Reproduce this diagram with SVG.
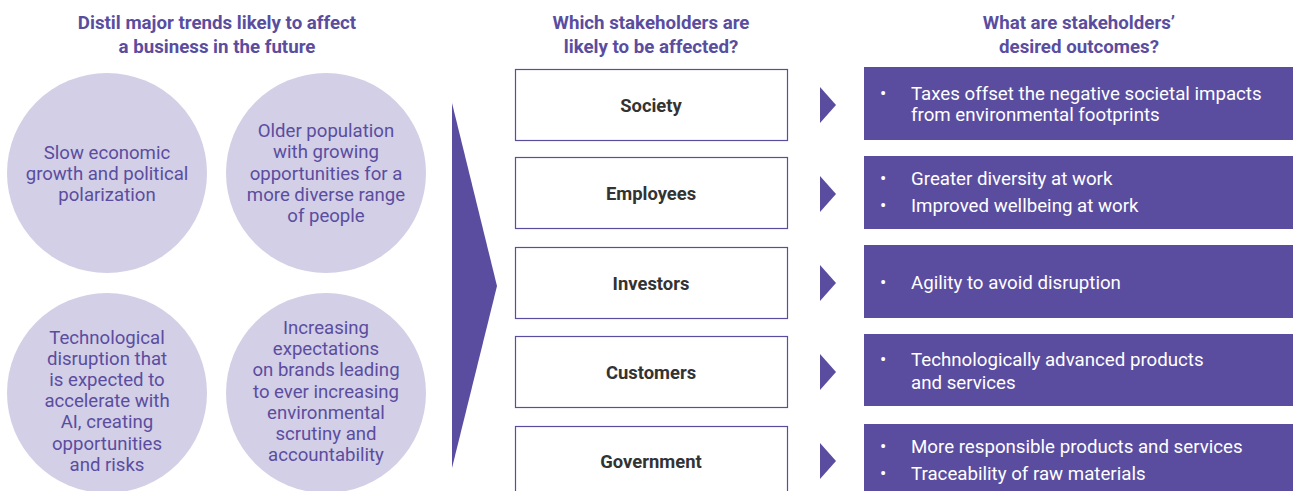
<svg xmlns="http://www.w3.org/2000/svg" width="1293" height="491" viewBox="0 0 1293 491">
<style>
.title{font-family:Roboto,"Liberation Sans",sans-serif;font-weight:700;font-size:18.7px;fill:#5a4da0;text-anchor:middle}
.circ{fill:#d3cfe6}
.ct{font-family:Roboto,"Liberation Sans",sans-serif;font-size:18.6px;fill:#5a4da0;text-anchor:middle}
.box{fill:#fff;stroke:#5a4da0;stroke-width:1.2}
.bl{font-family:Roboto,"Liberation Sans",sans-serif;font-weight:700;font-size:18.4px;fill:#333;text-anchor:middle}
.ob{fill:#5a4da0}
.ot{font-family:Roboto,"Liberation Sans",sans-serif;font-size:18.7px;fill:#fff}
.arr{fill:#5a4da0}
</style>
<g id="titles">
<text class="title" x="217" y="29">Distil major trends likely to affect</text>
<text class="title" x="217" y="53">a business in the future</text>
<text class="title" x="651" y="29">Which stakeholders are</text>
<text class="title" x="651" y="53">likely to be affected?</text>
<text class="title" x="1079" y="29">What are stakeholders’</text>
<text class="title" x="1079" y="53">desired outcomes?</text>
</g>
<g id="trend1"><circle class="circ" cx="107" cy="173" r="100"/>
<text class="ct" x="107" y="159">Slow economic</text><text class="ct" x="107" y="180">growth and political</text><text class="ct" x="107" y="201">polarization</text></g>
<g id="trend2"><circle class="circ" cx="326" cy="173" r="100"/>
<text class="ct" x="326" y="137">Older population</text><text class="ct" x="326" y="158">with growing</text><text class="ct" x="326" y="180">opportunities for a</text><text class="ct" x="326" y="201">more diverse range</text><text class="ct" x="326" y="222">of people</text></g>
<g id="trend3"><circle class="circ" cx="107" cy="393" r="100"/>
<text class="ct" x="107" y="344">Technological</text><text class="ct" x="107" y="365">disruption that</text><text class="ct" x="107" y="386">is expected to</text><text class="ct" x="107" y="407">accelerate with</text><text class="ct" x="107" y="428">AI, creating</text><text class="ct" x="107" y="450">opportunities</text><text class="ct" x="107" y="471">and risks</text></g>
<g id="trend4"><circle class="circ" cx="326" cy="393" r="100"/>
<text class="ct" x="326" y="334">Increasing</text><text class="ct" x="326" y="355">expectations</text><text class="ct" x="326" y="376">on brands leading</text><text class="ct" x="326" y="398">to ever increasing</text><text class="ct" x="326" y="419">environmental</text><text class="ct" x="326" y="440">scrutiny and</text><text class="ct" x="326" y="461">accountability</text></g>
<g id="connectors">
<polygon class="arr" points="452,103 497,286 452,468"/>
<polygon class="arr" points="820,87 836,105 820,123"/>
<polygon class="arr" points="820,176 836,194 820,212"/>
<polygon class="arr" points="820,265 836,283 820,301"/>
<polygon class="arr" points="820,354 836,372 820,390"/>
<polygon class="arr" points="820,443 836,461 820,479"/>
</g>
<g id="society"><rect class="box" x="515.5" y="69.5" width="272" height="71"/><text class="bl" x="651" y="112">Society</text></g>
<g id="employees"><rect class="box" x="515.5" y="157.5" width="272" height="71"/><text class="bl" x="651" y="200">Employees</text></g>
<g id="investors"><rect class="box" x="515.5" y="247.5" width="272" height="71"/><text class="bl" x="651" y="290">Investors</text></g>
<g id="customers"><rect class="box" x="515.5" y="336.5" width="272" height="71"/><text class="bl" x="651" y="379">Customers</text></g>
<g id="government"><rect class="box" x="515.5" y="426.5" width="272" height="71"/><text class="bl" x="651" y="468">Government</text></g>
<g id="out-society"><rect class="ob" x="864" y="67" width="440" height="73"/>
<text class="ot" x="880" y="100">•</text><text class="ot" x="911" y="100">Taxes offset the negative societal impacts</text><text class="ot" x="911" y="121">from environmental footprints</text></g>
<g id="out-employees"><rect class="ob" x="864" y="156" width="440" height="73"/>
<text class="ot" x="880" y="185">•</text><text class="ot" x="911" y="185">Greater diversity at work</text>
<text class="ot" x="880" y="212">•</text><text class="ot" x="911" y="212">Improved wellbeing at work</text></g>
<g id="out-investors"><rect class="ob" x="864" y="245" width="440" height="73"/>
<text class="ot" x="880" y="289">•</text><text class="ot" x="911" y="289">Agility to avoid disruption</text></g>
<g id="out-customers"><rect class="ob" x="864" y="334" width="440" height="72"/>
<text class="ot" x="880" y="366">•</text><text class="ot" x="911" y="366">Technologically advanced products</text><text class="ot" x="911" y="389">and services</text></g>
<g id="out-government"><rect class="ob" x="864" y="424" width="440" height="80"/>
<text class="ot" x="880" y="453">•</text><text class="ot" x="911" y="453">More responsible products and services</text>
<text class="ot" x="880" y="480">•</text><text class="ot" x="911" y="480">Traceability of raw materials</text></g>
</svg>
